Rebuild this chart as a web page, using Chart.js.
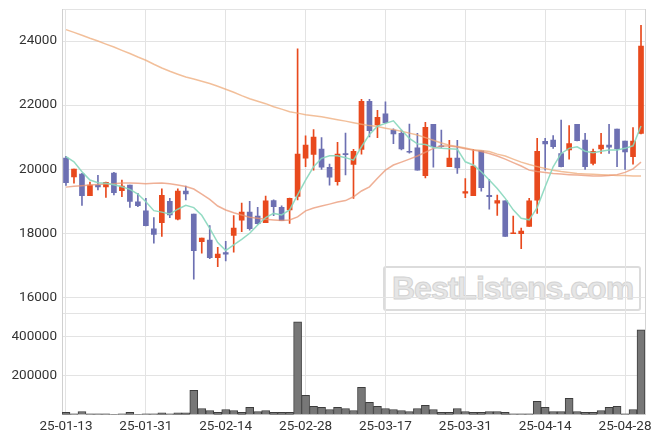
<!DOCTYPE html>
<html><head><meta charset="utf-8">
<script src="https://cdn.jsdelivr.net/npm/chart.js@4.4.1/dist/chart.umd.min.js"></script>
<style>
html,body{margin:0;padding:0;background:#fff;}
#wrap{position:relative;width:663px;height:444px;overflow:hidden;}
#wm{position:absolute;left:383px;top:266px;width:258px;height:45px;box-sizing:border-box;border:2px solid #dcdcdc;border-radius:3px;font:bold 32px "Liberation Sans",Arial,sans-serif;color:#e6e6e6;-webkit-text-stroke:1px #d3d3d3;letter-spacing:-1px;line-height:41px;padding-left:7px;white-space:nowrap;}
canvas{position:absolute;left:0;top:0;}
</style></head>
<body>
<div id="wrap"><div id="wm">BestListens.com</div><canvas id="c" width="663" height="444"></canvas></div>
<script>
const dates = ["25-01-13","25-01-14","25-01-15","25-01-16","25-01-17","25-01-20","25-01-21","25-01-22","25-01-23","25-01-24","25-01-31",
"25-02-03","25-02-04","25-02-05","25-02-06","25-02-07","25-02-10","25-02-11","25-02-12","25-02-13","25-02-14",
"25-02-17","25-02-18","25-02-19","25-02-20","25-02-21","25-02-24","25-02-25","25-02-26","25-02-27","25-02-28",
"25-03-04","25-03-05","25-03-06","25-03-07","25-03-10","25-03-11","25-03-12","25-03-13","25-03-14","25-03-17",
"25-03-18","25-03-19","25-03-20","25-03-21","25-03-24","25-03-25","25-03-26","25-03-27","25-03-28","25-03-31",
"25-04-01","25-04-02","25-04-03","25-04-04","25-04-07","25-04-08","25-04-09","25-04-10","25-04-11","25-04-14",
"25-04-15","25-04-16","25-04-17","25-04-18","25-04-21","25-04-22","25-04-23","25-04-24","25-04-25","25-04-28",
"25-04-29","25-04-30"];
const opens  = [20350,19760,19850,19170,19500,19450,19880,19330,19500,18980,18700,18140,18330,19000,18440,19320,18600,17740,17790,17240,17400,17930,18410,18660,18540,18330,19020,18810,18730,19150,20340,20460,20630,20060,19610,20490,20150,20620,22120,21380,21730,21220,21120,20560,20670,19800,21400,20730,20080,20350,19250,19170,20570,19180,18940,19010,17990,17990,18210,19030,20870,20910,20490,20600,21400,20910,20180,20630,20750,21250,20880,20390,21120];
const highs  = [20400,20000,19870,19600,19810,19600,19900,19660,19500,19250,19090,18490,19390,19090,19390,19470,18600,17850,18240,17560,17750,18550,18940,19000,18810,19160,19040,18860,19100,23760,21040,21240,20990,20160,20840,21130,20620,22180,22180,21840,22100,21260,21220,21410,21120,21460,21400,21220,20900,20900,19710,20620,20570,19680,19190,19010,18540,18160,19090,20960,20960,21050,21530,21360,21400,21120,20630,21120,21400,21250,20880,21300,24490];
const lows   = [19490,19560,18870,19170,19350,19120,19200,19140,18810,18830,18230,17690,17900,18490,18420,19040,16570,17380,17210,16960,17140,17410,18050,18100,18280,18330,18550,18390,18310,19040,20080,19970,19990,19500,19500,19820,19090,20470,21010,20980,21430,20800,20600,20500,19970,19730,20060,20680,20080,19870,19110,19170,19310,18750,18560,17900,17990,17520,18210,18620,19970,20650,20070,20310,20880,19990,20130,20490,20490,20080,19990,20160,21100];
const closes = [19580,20000,19170,19500,19450,19590,19270,19470,18990,18860,18240,17960,19180,18570,19320,19230,17460,17850,17240,17350,17350,18160,18660,18140,18300,19010,18830,18390,19090,20470,20750,21000,20060,19750,20470,20450,20560,22120,21200,21620,21450,21100,20630,20530,19970,21310,20700,20700,20350,20040,19300,20100,19420,19140,19020,17900,18010,18070,19010,20560,20790,20700,20080,20800,20890,20080,20560,20750,20690,20630,20540,20880,23840];
const volumes = [12000,5000,17000,5000,5000,5000,1500,5000,12000,1500,5000,5000,10000,5000,10000,10000,125000,32000,22000,12000,27000,22000,12000,38000,17000,22000,12000,12000,12000,473000,99000,43000,38000,27000,38000,32000,22000,140000,63000,43000,32000,27000,22000,17000,32000,48000,27000,12000,12000,32000,17000,12000,12000,17000,17000,12000,5000,5000,5000,68000,38000,17000,17000,84000,17000,12000,12000,22000,38000,43000,5000,27000,432000];
const ma5  = [20390,20230,19920,19660,19580,19560,19515,19450,19370,19225,18985,18705,18660,18600,18750,18870,18800,18560,18150,17710,17460,17640,17810,18000,18260,18490,18620,18570,18730,19200,19660,20075,20340,20420,20420,20360,20280,20700,21080,21340,21430,21510,21220,20960,20790,20770,20680,20650,20640,20620,20230,20130,19920,19660,19400,19090,18730,18470,18420,18800,19450,20075,20490,20650,20700,20560,20510,20560,20600,20600,20650,20730,21350];
const ma20 = [19440,19470,19485,19505,19525,19535,19545,19565,19565,19560,19545,19560,19570,19545,19505,19460,19380,19225,19055,18850,18725,18640,18570,18500,18470,18440,18415,18395,18415,18510,18700,18790,18850,18910,18975,19020,19140,19320,19450,19720,19970,20130,20220,20315,20410,20530,20650,20720,20720,20690,20640,20595,20550,20490,20410,20315,20205,20100,19970,19925,19895,19865,19850,19830,19815,19800,19785,19785,19800,19830,19900,20010,20220];
const ma60 = [24355,24270,24180,24085,24000,23905,23815,23710,23610,23500,23400,23275,23160,23055,22965,22880,22815,22745,22675,22590,22495,22400,22295,22200,22120,22045,21950,21875,21795,21750,21700,21670,21640,21590,21545,21500,21450,21405,21360,21330,21280,21235,21185,21125,21065,20985,20905,20815,20750,20705,20660,20610,20580,20550,20470,20410,20315,20220,20145,20080,20020,19970,19925,19895,19865,19850,19840,19830,19815,19805,19800,19790,19785];
const priceTicks = [16000, 18000, 20000, 22000, 24000];
const priceMin = 15500, priceMax = 25000;
const volumeTicks = [200000, 400000];
const volumeMax = 516000;

const RED = '#e8491d', BLUE = '#6d70b2';
const candleColors = dates.map((_, i) => closes[i] >= opens[i] ? RED : BLUE);
const wickData = dates.map((_, i) => [lows[i], highs[i]]);
const bodyData = dates.map((_, i) => [opens[i], closes[i]]);

const rightBorder = {
  id: 'rightBorder',
  beforeDatasetsDraw(chart) {
    const {ctx, chartArea: a} = chart;
    ctx.save();
    ctx.strokeStyle = '#d4d4d4';
    ctx.lineWidth = 1;
    ctx.beginPath();
    ctx.moveTo(Math.round(a.right) + 0.5, a.top);
    ctx.lineTo(Math.round(a.right) + 0.5, a.bottom);
    ctx.stroke();
    ctx.restore();
  }
};

const tickFont = {family: 'Roboto', size: 13.5};
const gridColor = '#e3e3e3';
const fitY = s => { s.width = 50; s.paddingTop = 0; s.paddingBottom = 0; };

new Chart(document.getElementById('c'), {
  type: 'bar',
  data: {
    labels: dates,
    datasets: [
      {type: 'line', label: 'MA5', data: ma5, yAxisID: 'y', borderColor: 'rgba(135,215,188,0.9)', borderWidth: 1.5, pointRadius: 0, tension: 0, order: 0},
      {type: 'line', label: 'MA20', data: ma20, yAxisID: 'y', borderColor: 'rgba(234,150,115,0.75)', borderWidth: 1.5, pointRadius: 0, tension: 0, order: 0},
      {type: 'line', label: 'MA60', data: ma60, yAxisID: 'y', borderColor: 'rgba(238,170,120,0.75)', borderWidth: 1.5, pointRadius: 0, tension: 0, order: 0},
      {label: 'wick', data: wickData, yAxisID: 'y', backgroundColor: candleColors, barThickness: 1, grouped: false, order: 2},
      {label: 'body', data: bodyData, yAxisID: 'y', backgroundColor: candleColors, barThickness: 5, grouped: false, order: 1},
      {label: 'volume', data: volumes, yAxisID: 'yv', backgroundColor: '#777777', borderColor: '#3d3d3d', borderWidth: 1, barPercentage: 1, categoryPercentage: 1, grouped: false, order: 3}
    ]
  },
  options: {
    responsive: false,
    animation: false,
    layout: {padding: {left: 12, right: 18, top: 9, bottom: 5}},
    plugins: {legend: {display: false}, tooltip: {enabled: false}},
    scales: {
      x: {
        offset: true,
        grid: {offset: false, color: gridColor, drawTicks: false},
        border: {color: '#d0d0d0'},
        ticks: {autoSkip: false, maxRotation: 0, padding: 4, color: '#333', font: tickFont,
          callback: (v, i) => (i % 10 === 0 ? dates[i] : null)}
      },
      yv: {
        position: 'left', stack: 'panels', stackWeight: 1,
        min: 0, max: volumeMax,
        grid: {color: gridColor, drawTicks: false},
        border: {color: '#d0d0d0'},
        afterBuildTicks: s => { s.ticks = [0, ...volumeTicks, volumeMax].map(v => ({value: v})); },
        ticks: {autoSkip: false, padding: 5, color: '#333', font: tickFont,
          callback: v => (volumeTicks.includes(v) ? String(v) : '')},
        afterFit: fitY
      },
      y: {
        position: 'left', stack: 'panels', stackWeight: 3,
        min: priceMin, max: priceMax,
        grid: {color: gridColor, drawTicks: false},
        border: {color: '#d0d0d0'},
        afterBuildTicks: s => { s.ticks = [priceMin, ...priceTicks, priceMax].map(v => ({value: v})); },
        ticks: {autoSkip: false, padding: 5, color: '#333', font: tickFont,
          callback: v => (priceTicks.includes(v) ? String(v) : '')},
        afterFit: fitY
      }
    }
  },
  plugins: [rightBorder]
});
</script>
</body></html>
